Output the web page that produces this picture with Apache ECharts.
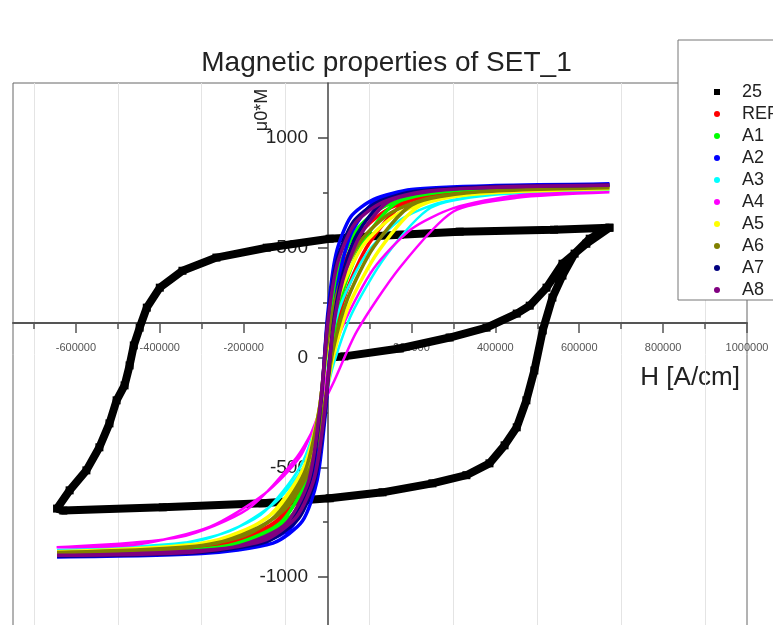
<!DOCTYPE html>
<html>
<head>
<meta charset="utf-8">
<script src="https://cdn.jsdelivr.net/npm/echarts@6/dist/echarts.min.js"></script>
<style>
  html, body { margin: 0; padding: 0; background: #fff; }
  #chart { width: 773px; height: 625px; }
</style>
</head>
<body>
<div id="chart"></div>
<script>
// H [A/cm], mu0*M  -- each loop: descending branch then ascending branch
const seriesNames = ['25', 'REF', 'A1', 'A2', 'A3', 'A4', 'A5', 'A6', 'A7', 'A8'];
const seriesColors = ['#000000', '#ff0000', '#00ff00', '#0000ff', '#00ffff',
  '#ff00ff', '#ffff00', '#808000', '#000080', '#800080'];

const xMajorTicks = [-600000, -400000, -200000, 0, 200000, 400000, 600000, 800000, 1000000];
const xLabelValues = [-600000, -400000, -200000, 200000, 400000, 600000, 800000, 1000000];
const xMinorTicks = [-700000, -500000, -300000, -100000, 100000, 300000, 500000, 700000, 900000];
const yMajorTicks = [-1000, -500, 0, 500, 1000];
const yLabelValues = [-1000, -500, 0, 500, 1000];
const yMinorTicks = [-750, -250, 250, 750];

// sample 25: virgin curve, descending, ascending
const loop25 = [
  [0, 0], [40000, 5], [172000, 41], [291000, 91], [379000, 136], [451000, 200], [482000, 236],
  [522000, 318], [560000, 427], [617000, 518], [672000, 591],
  [540000, 582], [315000, 573], [172000, 559], [5000, 541], [-145000, 500], [-265000, 455],
  [-346000, 395], [-400000, 318], [-431000, 227], [-448000, 136], [-462000, 55], [-472000, -36],
  [-484000, -127], [-503000, -195], [-520000, -300], [-544000, -409], [-575000, -514],
  [-615000, -605], [-645000, -688],
  [-630000, -697], [-393000, -682], [-155000, -664], [5000, -641], [131000, -614], [250000, -573],
  [331000, -536], [386000, -482], [422000, -400], [451000, -318], [474000, -195], [493000, -59],
  [513000, 123], [536000, 273], [560000, 373], [589000, 473], [625000, 541], [672000, 591]
];

const loopREF = [
  [672000, 777], [418000, 767], [235000, 735], [142000, 673], [74000, 558], [27000, 362], [0, 103],
  [-19000, -230], [-52000, -536], [-125000, -749], [-267000, -857], [-645000, -893],
  [-353000, -878], [-183000, -819], [-92000, -701], [-39000, -522], [-9000, -243], [13000, 59],
  [44000, 296], [99000, 520], [183000, 701], [320000, 755], [672000, 777]
];

const loopA1 = [
  [672000, 781], [413000, 772], [225000, 744], [133000, 686], [69000, 581], [25000, 393], [0, 128],
  [-18000, -221], [-49000, -549], [-115000, -758], [-253000, -863], [-645000, -897],
  [-338000, -882], [-168000, -826], [-83000, -714], [-35000, -533], [-8000, -245], [13000, 85],
  [40000, 323], [88000, 537], [165000, 706], [300000, 759], [672000, 781]
];

const loopA2 = [
  [672000, 790], [400000, 783], [200000, 765], [110000, 720], [55000, 640], [20000, 470], [0, 190],
  [-15000, -200], [-40000, -580], [-90000, -780], [-220000, -878], [-645000, -908],
  [-300000, -893], [-130000, -845], [-60000, -745], [-25000, -560], [-5000, -250], [12000, 150],
  [30000, 390], [60000, 580], [120000, 720], [250000, 770], [672000, 790]
];

const loopA3 = [
  [672000, 763], [436000, 752], [270000, 706], [173000, 626], [94000, 476], [34000, 253], [0, 15],
  [-22000, -260], [-64000, -493], [-160000, -717], [-313000, -836], [-645000, -877],
  [-405000, -863], [-235000, -792], [-123000, -657], [-53000, -483], [-12000, -236], [14000, -32],
  [58000, 201], [138000, 460], [246000, 682], [391000, 740], [672000, 763]
];

const loopA4 = [
  [672000, 752], [451000, 738], [300000, 680], [200000, 585], [110000, 405], [40000, 160], [0, -60],
  [-25000, -285], [-74000, -455], [-190000, -690], [-353000, -818], [-646000, -864],
  [-450000, -850], [-280000, -770], [-150000, -620], [-65000, -450], [-15000, -230], [15000, -110],
  [70000, 120], [172000, 409], [300000, 665], [451000, 727], [672000, 752]
];

const loopA5 = [
  [672000, 769], [428000, 758], [255000, 718], [160000, 646], [85000, 511], [31000, 300], [0, 53],
  [-21000, -247], [-59000, -511], [-145000, -731], [-293000, -845], [-645000, -884],
  [-383000, -869], [-213000, -804], [-110000, -676], [-47000, -500], [-11000, -239], [14000, 7],
  [52000, 242], [122000, 486], [219000, 690], [361000, 746], [672000, 769]
];

const loopA6 = [
  [672000, 773], [423000, 763], [245000, 727], [151000, 659], [80000, 534], [29000, 331], [0, 78],
  [-20000, -238], [-55000, -524], [-135000, -740], [-280000, -851], [-645000, -888],
  [-368000, -874], [-198000, -811], [-101000, -689], [-43000, -511], [-10000, -241], [13000, 33],
  [48000, 269], [110000, 503], [201000, 695], [340000, 751], [672000, 773]
];

const loopA7 = [
  [672000, 786], [405000, 779], [210000, 757], [119000, 707], [61000, 617], [22000, 439], [0, 165],
  [-16000, -209], [-43000, -568], [-100000, -771], [-233000, -872], [-645000, -904],
  [-315000, -889], [-145000, -838], [-69000, -733], [-29000, -549], [-6000, -248], [12000, 124],
  [34000, 363], [71000, 563], [138000, 715], [270000, 766], [672000, 786]
];

const loopA8 = [
  [672000, 784], [408000, 776], [215000, 752], [124000, 700], [63000, 605], [23000, 424], [0, 153],
  [-17000, -213], [-45000, -561], [-105000, -767], [-240000, -869], [-645000, -901],
  [-323000, -887], [-153000, -834], [-74000, -726], [-31000, -544], [-7000, -247], [12000, 111],
  [36000, 350], [77000, 554], [147000, 712], [280000, 764], [672000, 784]
];

const loops = [loop25, loopREF, loopA1, loopA2, loopA3, loopA4, loopA5, loopA6, loopA7, loopA8];

const FONT = '"Liberation Sans", Arial, sans-serif';
const chart = echarts.init(document.getElementById('chart'), null, { renderer: 'canvas' });

const series = loops.map((data, i) => {
  if (i === 0) {
    return {
      name: seriesNames[i], type: 'line', data,
      symbol: 'rect', symbolSize: 8, showSymbol: true,
      lineStyle: { width: 8, color: seriesColors[i] },
      itemStyle: { color: seriesColors[i] },
      z: 2
    };
  }
  return {
    name: seriesNames[i], type: 'line', data,
    smooth: 0.25, showSymbol: false, symbol: 'circle',
    lineStyle: { width: (i === 5 || i === 4) ? 2.5 : 3.5, color: seriesColors[i] },
    itemStyle: { color: seriesColors[i] },
    z: 3
  };
});

const plain = v => String(v);

chart.setOption({
  animation: false,
  backgroundColor: '#fff',
  title: {
    text: 'Magnetic properties of SET_1',
    left: 'center', top: 44,
    textStyle: { fontSize: 28, fontWeight: 'normal', color: '#222', fontFamily: FONT }
  },
  legend: {
    orient: 'vertical', left: 678, top: 40,
    padding: [43, 20, 1, 36],
    itemWidth: 6, itemHeight: 6, itemGap: 4,
    backgroundColor: '#fff', borderColor: '#777', borderWidth: 1,
    selectedMode: false,
    textStyle: { fontSize: 18, color: '#222', fontFamily: FONT, padding: [0, 0, 0, 17] },
    data: seriesNames.map((n, i) => ({ name: n, icon: i === 0 ? 'rect' : 'circle' }))
  },
  grid: {
    left: 13, right: 26, top: 83, bottom: -7,
    show: true, borderColor: '#666', borderWidth: 1,
    outerBoundsMode: 'none'
  },
  xAxis: [{
    type: 'value', min: -750000, max: 1000000, position: 'bottom', offset: -309,
    axisLine: { onZero: false, lineStyle: { color: '#555', width: 2 } },
    axisTick: { customValues: xMajorTicks, length: 10, lineStyle: { color: '#555', width: 1.5 } },
    axisLabel: { customValues: xLabelValues, formatter: plain, margin: 19, fontSize: 11, color: '#555', fontFamily: FONT },
    splitLine: { show: false }
  }, {
    type: 'value', min: -750000, max: 1000000, position: 'bottom', offset: -309,
    axisLine: { show: false, onZero: false },
    axisTick: { customValues: xMinorTicks, length: 6, lineStyle: { color: '#555', width: 1.5 } },
    axisLabel: { show: false },
    splitLine: { show: true, lineStyle: { color: '#e4e4e4', width: 1 } }
  }],
  yAxis: [{
    type: 'value', min: -1250, max: 1250, position: 'left', offset: -315,
    axisLine: { onZero: false, lineStyle: { color: '#444', width: 1.5 } },
    axisTick: { customValues: yMajorTicks, length: 10, lineStyle: { color: '#444', width: 1.5 } },
    axisLabel: { customValues: yLabelValues, formatter: plain, margin: 20, fontSize: 19, color: '#222', fontFamily: FONT },
    splitLine: { show: false }
  }, {
    type: 'value', min: -1250, max: 1250, position: 'left', offset: -315,
    axisLine: { show: false, onZero: false },
    axisTick: { customValues: yMinorTicks, length: 5, lineStyle: { color: '#444', width: 1.5 } },
    axisLabel: { show: false },
    splitLine: { show: false }
  }],
  graphic: [{
    type: 'text', x: 262, y: 110, rotation: Math.PI / 2,
    style: { text: 'μ0*M', fontSize: 18, fontFamily: FONT, fill: '#222', align: 'center', verticalAlign: 'middle' }
  }, {
    type: 'text', x: 740, y: 378,
    style: { text: 'H [A/cm]', fontSize: 26, fontFamily: FONT, fill: '#222', align: 'right', verticalAlign: 'middle' }
  }],
  series
});
</script>
</body>
</html>
